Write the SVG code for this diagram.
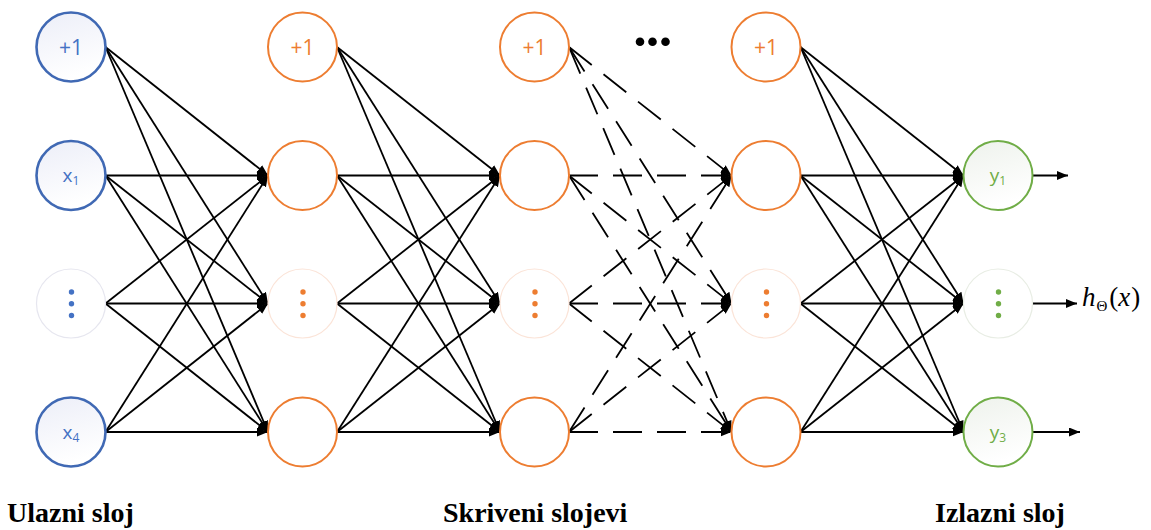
<svg xmlns="http://www.w3.org/2000/svg" width="1151" height="530" viewBox="0 0 1151 530">
<defs>
<linearGradient id="gBlue" x1="0" y1="0" x2="0.3" y2="1">
<stop offset="0" stop-color="#eceef8"/><stop offset="1" stop-color="#ffffff"/>
</linearGradient>
<linearGradient id="gGreen" x1="0" y1="0" x2="0.3" y2="1">
<stop offset="0" stop-color="#eef2ec"/><stop offset="1" stop-color="#ffffff"/>
</linearGradient>
<marker id="ah" markerUnits="userSpaceOnUse" markerWidth="12" markerHeight="10" refX="11" refY="4.5" orient="auto">
<path d="M0,0 L11,4.5 L0,9 z" fill="#000"/>
</marker>
</defs>
<style>
.c{stroke:#000;stroke-width:1.8;fill:none;marker-end:url(#ah)}
.d{stroke-dasharray:29 15}
.in{fill:url(#gBlue);stroke:#4069b4;stroke-width:2.6}
.hid{fill:#fff;stroke:#ed7d31;stroke-width:2}
.out{fill:url(#gGreen);stroke:#70ad47;stroke-width:2}
.inD{fill:#fff;stroke:#e6e6ef;stroke-width:1.2}
.hidD{fill:#fff;stroke:#fbe4d8;stroke-width:1.2}
.outD{fill:#fff;stroke:#e8ede4;stroke-width:1.2}
.t{font-family:"Open Sans","Noto Sans","Liberation Sans",sans-serif;font-size:19px;text-anchor:middle}
.p{font-size:21px}
.s{font-size:12px}
.lab{font-family:"Liberation Serif","Times New Roman",serif;font-weight:bold;font-size:28px}
</style>
<g id="connectors">
<line class="c" x1="105.5" y1="47" x2="268" y2="175.5"/>
<line class="c" x1="105.5" y1="47" x2="268" y2="303.5"/>
<line class="c" x1="105.5" y1="47" x2="268" y2="432"/>
<line class="c" x1="105.5" y1="175.5" x2="268" y2="175.5"/>
<line class="c" x1="105.5" y1="175.5" x2="268" y2="303.5"/>
<line class="c" x1="105.5" y1="175.5" x2="268" y2="432"/>
<line class="c" x1="105.5" y1="303.5" x2="268" y2="175.5"/>
<line class="c" x1="105.5" y1="303.5" x2="268" y2="303.5"/>
<line class="c" x1="105.5" y1="303.5" x2="268" y2="432"/>
<line class="c" x1="105.5" y1="432" x2="268" y2="175.5"/>
<line class="c" x1="105.5" y1="432" x2="268" y2="303.5"/>
<line class="c" x1="105.5" y1="432" x2="268" y2="432"/>
<line class="c" x1="337" y1="47" x2="500" y2="175.5"/>
<line class="c" x1="337" y1="47" x2="500" y2="303.5"/>
<line class="c" x1="337" y1="47" x2="500" y2="432"/>
<line class="c" x1="337" y1="175.5" x2="500" y2="175.5"/>
<line class="c" x1="337" y1="175.5" x2="500" y2="303.5"/>
<line class="c" x1="337" y1="175.5" x2="500" y2="432"/>
<line class="c" x1="337" y1="303.5" x2="500" y2="175.5"/>
<line class="c" x1="337" y1="303.5" x2="500" y2="303.5"/>
<line class="c" x1="337" y1="303.5" x2="500" y2="432"/>
<line class="c" x1="337" y1="432" x2="500" y2="175.5"/>
<line class="c" x1="337" y1="432" x2="500" y2="303.5"/>
<line class="c" x1="337" y1="432" x2="500" y2="432"/>
<line class="c d" x1="569" y1="47" x2="731.5" y2="175.5"/>
<line class="c d" x1="569" y1="47" x2="731.5" y2="303.5"/>
<line class="c d" x1="569" y1="47" x2="731.5" y2="432"/>
<line class="c d" x1="569" y1="175.5" x2="731.5" y2="175.5"/>
<line class="c d" x1="569" y1="175.5" x2="731.5" y2="303.5"/>
<line class="c d" x1="569" y1="175.5" x2="731.5" y2="432"/>
<line class="c d" x1="569" y1="303.5" x2="731.5" y2="175.5"/>
<line class="c d" x1="569" y1="303.5" x2="731.5" y2="303.5"/>
<line class="c d" x1="569" y1="303.5" x2="731.5" y2="432"/>
<line class="c d" x1="569" y1="432" x2="731.5" y2="175.5"/>
<line class="c d" x1="569" y1="432" x2="731.5" y2="303.5"/>
<line class="c d" x1="569" y1="432" x2="731.5" y2="432"/>
<line class="c" x1="800.5" y1="47" x2="963.5" y2="175.5"/>
<line class="c" x1="800.5" y1="47" x2="963.5" y2="303.5"/>
<line class="c" x1="800.5" y1="47" x2="963.5" y2="432"/>
<line class="c" x1="800.5" y1="175.5" x2="963.5" y2="175.5"/>
<line class="c" x1="800.5" y1="175.5" x2="963.5" y2="303.5"/>
<line class="c" x1="800.5" y1="175.5" x2="963.5" y2="432"/>
<line class="c" x1="800.5" y1="303.5" x2="963.5" y2="175.5"/>
<line class="c" x1="800.5" y1="303.5" x2="963.5" y2="303.5"/>
<line class="c" x1="800.5" y1="303.5" x2="963.5" y2="432"/>
<line class="c" x1="800.5" y1="432" x2="963.5" y2="175.5"/>
<line class="c" x1="800.5" y1="432" x2="963.5" y2="303.5"/>
<line class="c" x1="800.5" y1="432" x2="963.5" y2="432"/>
<line class="c" x1="1032.5" y1="175.5" x2="1068" y2="175.5"/>
<line class="c" x1="1032.5" y1="303.5" x2="1077" y2="303.5"/>
<line class="c" x1="1032.5" y1="432" x2="1080" y2="432"/>
</g>
<g id="in-bias"><circle class="in" cx="71" cy="47" r="34.5"/><text class="t p" x="71" y="54.5" fill="#4472c4">+1</text></g>
<g id="in-x1"><circle class="in" cx="71" cy="175.5" r="34.5"/><text class="t" x="71" y="182" fill="#4472c4">x<tspan class="s" dy="3">1</tspan></text></g>
<g id="in-dots"><circle class="inD" cx="71" cy="303.5" r="34.5"/><g fill="#4472c4"><circle cx="71.5" cy="292" r="2.7"/><circle cx="71.5" cy="303.7" r="2.7"/><circle cx="71.5" cy="315.5" r="2.7"/></g></g>
<g id="in-x4"><circle class="in" cx="71" cy="432" r="34.5"/><text class="t" x="71" y="438.5" fill="#4472c4">x<tspan class="s" dy="3">4</tspan></text></g>

<g id="h1-bias"><circle class="hid" cx="302.5" cy="47" r="34.5"/><text class="t p" x="302.5" y="54.5" fill="#ed7d31">+1</text></g>
<g id="h1-n1"><circle class="hid" cx="302.5" cy="175.5" r="34.5"/></g>
<g id="h1-dots"><circle class="hidD" cx="302.5" cy="303.5" r="34.5"/><g fill="#ed7d31"><circle cx="303" cy="292" r="2.7"/><circle cx="303" cy="303.7" r="2.7"/><circle cx="303" cy="315.5" r="2.7"/></g></g>
<g id="h1-n4"><circle class="hid" cx="302.5" cy="432" r="34.5"/></g>

<g id="h2-bias"><circle class="hid" cx="534.5" cy="47" r="34.5"/><text class="t p" x="534.5" y="54.5" fill="#ed7d31">+1</text></g>
<g id="h2-n1"><circle class="hid" cx="534.5" cy="175.5" r="34.5"/></g>
<g id="h2-dots"><circle class="hidD" cx="534.5" cy="303.5" r="34.5"/><g fill="#ed7d31"><circle cx="535" cy="292" r="2.7"/><circle cx="535" cy="303.7" r="2.7"/><circle cx="535" cy="315.5" r="2.7"/></g></g>
<g id="h2-n4"><circle class="hid" cx="534.5" cy="432" r="34.5"/></g>

<g id="ellipsis" fill="#000"><circle cx="640" cy="41.7" r="4.3"/><circle cx="652.5" cy="41.7" r="4.3"/><circle cx="665.5" cy="41.7" r="4.3"/></g>

<g id="h3-bias"><circle class="hid" cx="766" cy="47" r="34.5"/><text class="t p" x="766" y="54.5" fill="#ed7d31">+1</text></g>
<g id="h3-n1"><circle class="hid" cx="766" cy="175.5" r="34.5"/></g>
<g id="h3-dots"><circle class="hidD" cx="766" cy="303.5" r="34.5"/><g fill="#ed7d31"><circle cx="766.5" cy="292" r="2.7"/><circle cx="766.5" cy="303.7" r="2.7"/><circle cx="766.5" cy="315.5" r="2.7"/></g></g>
<g id="h3-n4"><circle class="hid" cx="766" cy="432" r="34.5"/></g>

<g id="out-y1"><circle class="out" cx="998" cy="175.5" r="34.5"/><text class="t" x="998" y="182" fill="#70ad47">y<tspan class="s" dy="3">1</tspan></text></g>
<g id="out-dots"><circle class="outD" cx="998" cy="303.5" r="34.5"/><g fill="#70ad47"><circle cx="998.5" cy="292" r="2.7"/><circle cx="998.5" cy="303.7" r="2.7"/><circle cx="998.5" cy="315.5" r="2.7"/></g></g>
<g id="out-y3"><circle class="out" cx="998" cy="432" r="34.5"/><text class="t" x="998" y="438.5" fill="#70ad47">y<tspan class="s" dy="3">3</tspan></text></g>

<g id="hx"><text x="1082" y="306" font-family="Liberation Serif,'Times New Roman',serif" font-size="27" fill="#000"><tspan font-style="italic">h</tspan><tspan font-size="15" dy="5" dx="1">Θ</tspan><tspan dy="-5" dx="2">(</tspan><tspan font-style="italic">x</tspan><tspan dx="1">)</tspan></text></g>

<g id="labels">
<text class="lab" x="7" y="522">Ulazni sloj</text>
<text class="lab" x="443" y="522">Skriveni slojevi</text>
<text class="lab" x="935" y="522">Izlazni sloj</text>
</g>
</svg>
